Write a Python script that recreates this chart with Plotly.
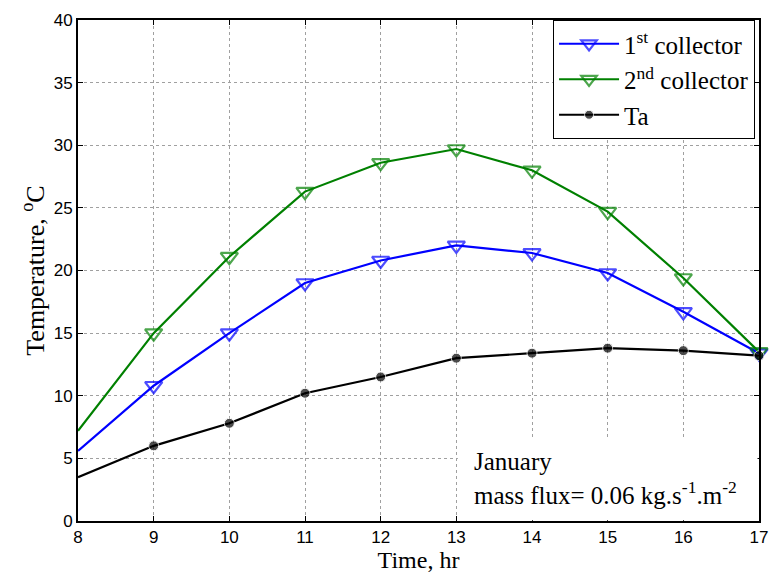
import plotly.graph_objects as go

hours = [8, 9, 10, 11, 12, 13, 14, 15, 16, 17]
collector1 = [5.6, 10.8, 15.0, 19.0, 20.8, 22.0, 21.4, 19.8, 16.7, 13.4]
collector2 = [7.2, 15.0, 21.1, 26.3, 28.6, 29.7, 28.0, 24.7, 19.4, 13.5]
ambient = [3.5, 6.0, 7.8, 10.2, 11.5, 13.0, 13.4, 13.8, 13.6, 13.2]

serif = "Liberation Serif"
sans = "Liberation Sans"

n = len(hours)
tri_sizes = [0] + [15] * (n - 1)
dot_sizes = [0] + [10] * (n - 1)

fig = go.Figure()
fig.add_trace(go.Scatter(
    x=hours, y=collector1, mode="lines+markers", name="1<sup>st</sup> collector",
    line=dict(color="#0000FF", width=2.2),
    marker=dict(symbol="triangle-down-open", size=tri_sizes, color="#0000FF",
                line=dict(width=2.2, color="#0000FF")),
    cliponaxis=False))
fig.add_trace(go.Scatter(
    x=hours, y=collector2, mode="lines+markers", name="2<sup>nd</sup> collector",
    line=dict(color="#008000", width=2.2),
    marker=dict(symbol="triangle-down-open", size=tri_sizes, color="#008000",
                line=dict(width=2.2, color="#008000")),
    cliponaxis=False))
fig.add_trace(go.Scatter(
    x=hours, y=ambient, mode="lines+markers", name="Ta",
    line=dict(color="black", width=2.2),
    marker=dict(symbol="circle", size=dot_sizes, color="black"),
    cliponaxis=False))

fig.add_shape(type="rect", xref="x", yref="y", x0=13.02, x1=16.98, y0=0.05, y1=6.5,
              fillcolor="white", line=dict(width=0), layer="above")

fig.add_annotation(
    xref="paper", yref="paper", x=(477 - 78) / 690, y=1 - (462 - 16) / 506,
    xanchor="left", yanchor="middle", text="January",
    showarrow=False, align="left", font=dict(family=serif, size=25, color="black"))
fig.add_annotation(
    xref="paper", yref="paper", x=(477 - 78) / 690, y=1 - (494 - 16) / 506,
    xanchor="left", yanchor="middle",
    text="mass flux= 0.06 kg.s<sup>-1</sup>.m<sup>-2</sup>",
    showarrow=False, align="left", font=dict(family=serif, size=25, color="black"))

axis_common = dict(
    showline=True, linecolor="black", linewidth=2, mirror="ticks",
    ticks="inside", ticklen=5, tickwidth=1, tickcolor="black",
    showgrid=True, gridcolor="#a0a0a0", gridwidth=1, griddash="dot",
    zeroline=False, tickfont=dict(family=sans, size=17, color="black"),
)

fig.update_xaxes(range=[8, 17], tickvals=hours, ticktext=[str(h) for h in hours],
                 title=dict(text="Time, hr", font=dict(family=serif, size=24, color="black"), standoff=2),
                 **axis_common)
fig.update_yaxes(range=[0, 40], tickvals=list(range(0, 41, 5)),
                 title=dict(text="Temperature, <sup>o</sup>C", font=dict(family=serif, size=26, color="black"), standoff=2),
                 **axis_common)

fig.update_layout(
    width=779, height=577,
    margin=dict(l=78, r=11, t=16, b=55),
    paper_bgcolor="white", plot_bgcolor="white",
    font=dict(family=serif, color="black"),
    legend=dict(x=(764 - 78) / 690, y=1.0, xanchor="right", yanchor="top",
                bgcolor="white", bordercolor="black", borderwidth=1,
                font=dict(family=serif, size=25, color="black"),
                itemwidth=60, tracegroupgap=0),
    showlegend=True,
)

fig.write_html("out.html")
